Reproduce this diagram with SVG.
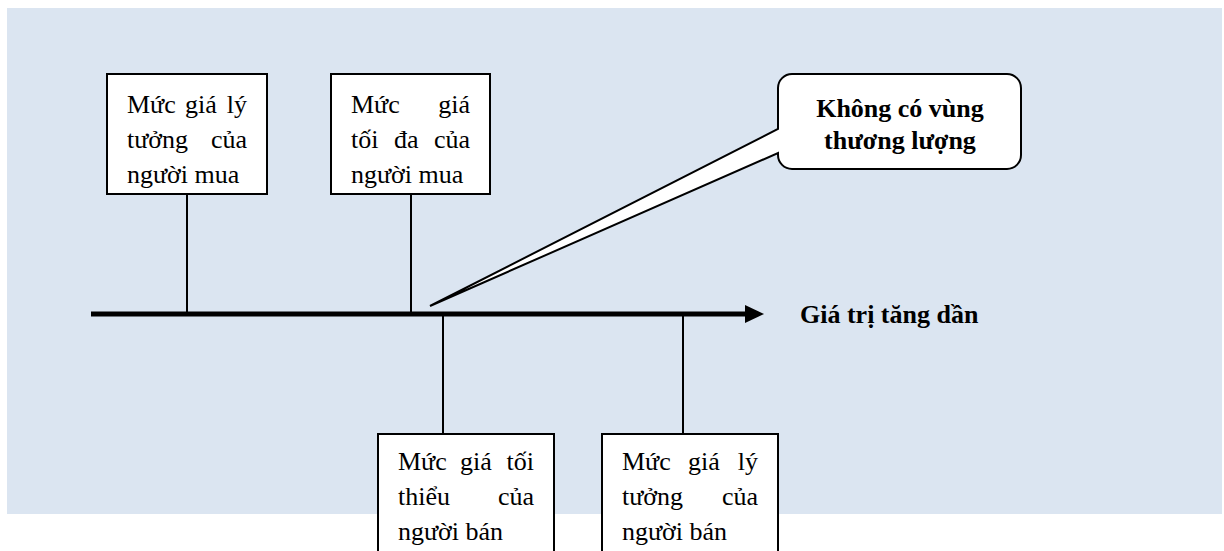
<svg xmlns="http://www.w3.org/2000/svg" width="1224" height="551" viewBox="0 0 1224 551">
<style>
.bg{fill:#DBE5F1}
.box{fill:#fff;stroke:#000;stroke-width:2}
.ln{stroke:#000;stroke-width:2;fill:none}
.t{font-family:"Liberation Serif","Times New Roman",serif;font-size:26px;fill:#000}
.b{font-weight:bold}
</style>
<rect class="bg" x="7" y="8" width="1215" height="506"/>
<g id="connectors">
<line class="ln" x1="187" y1="194" x2="187" y2="314"/>
<line class="ln" x1="411" y1="194" x2="411" y2="314"/>
<line class="ln" x1="443" y1="314" x2="443" y2="434"/>
<line class="ln" x1="683" y1="314" x2="683" y2="434"/>
</g>
<g id="axis">
<line x1="91" y1="314" x2="748" y2="314" stroke="#000" stroke-width="5"/>
<polygon points="745,305 764,314 745,323" fill="#000"/>
<text class="t b" x="800" y="323">Giá trị tăng dần</text>
</g>
<g id="buyer-ideal">
<rect class="box" x="107" y="74" width="160" height="120"/>
<text class="t" y="113"><tspan x="127">Mức</tspan><tspan x="185">giá</tspan><tspan x="247" text-anchor="end">lý</tspan></text>
<text class="t" y="148"><tspan x="127">tưởng</tspan><tspan x="247" text-anchor="end">của</tspan></text>
<text class="t" x="127" y="183">người mua</text>
</g>
<g id="buyer-max">
<rect class="box" x="331" y="74" width="159" height="120"/>
<text class="t" y="113"><tspan x="351">Mức</tspan><tspan x="470" text-anchor="end">giá</tspan></text>
<text class="t" y="148"><tspan x="351">tối</tspan><tspan x="394">đa</tspan><tspan x="470" text-anchor="end">của</tspan></text>
<text class="t" x="351" y="183">người mua</text>
</g>
<g id="callout">
<path class="box" d="M792,74 H1007 A14 14 0 0 1 1021,88 V155 A14 14 0 0 1 1007,169 H792 A14 14 0 0 1 778,155 V153 L430,306 L778,129 V88 A14 14 0 0 1 792,74 Z"/>
<text class="t b" x="900" y="117" text-anchor="middle">Không có vùng</text>
<text class="t b" x="900" y="149" text-anchor="middle">thương lượng</text>
</g>
<g id="seller-min">
<rect class="box" x="378" y="434" width="176" height="130"/>
<text class="t" y="470"><tspan x="398">Mức</tspan><tspan x="460">giá</tspan><tspan x="534" text-anchor="end">tối</tspan></text>
<text class="t" y="505"><tspan x="398">thiểu</tspan><tspan x="534" text-anchor="end">của</tspan></text>
<text class="t" x="398" y="540">người bán</text>
</g>
<g id="seller-ideal">
<rect class="box" x="602" y="434" width="176" height="130"/>
<text class="t" y="470"><tspan x="622">Mức</tspan><tspan x="688">giá</tspan><tspan x="758" text-anchor="end">lý</tspan></text>
<text class="t" y="505"><tspan x="622">tưởng</tspan><tspan x="758" text-anchor="end">của</tspan></text>
<text class="t" x="622" y="540">người bán</text>
</g>
</svg>
